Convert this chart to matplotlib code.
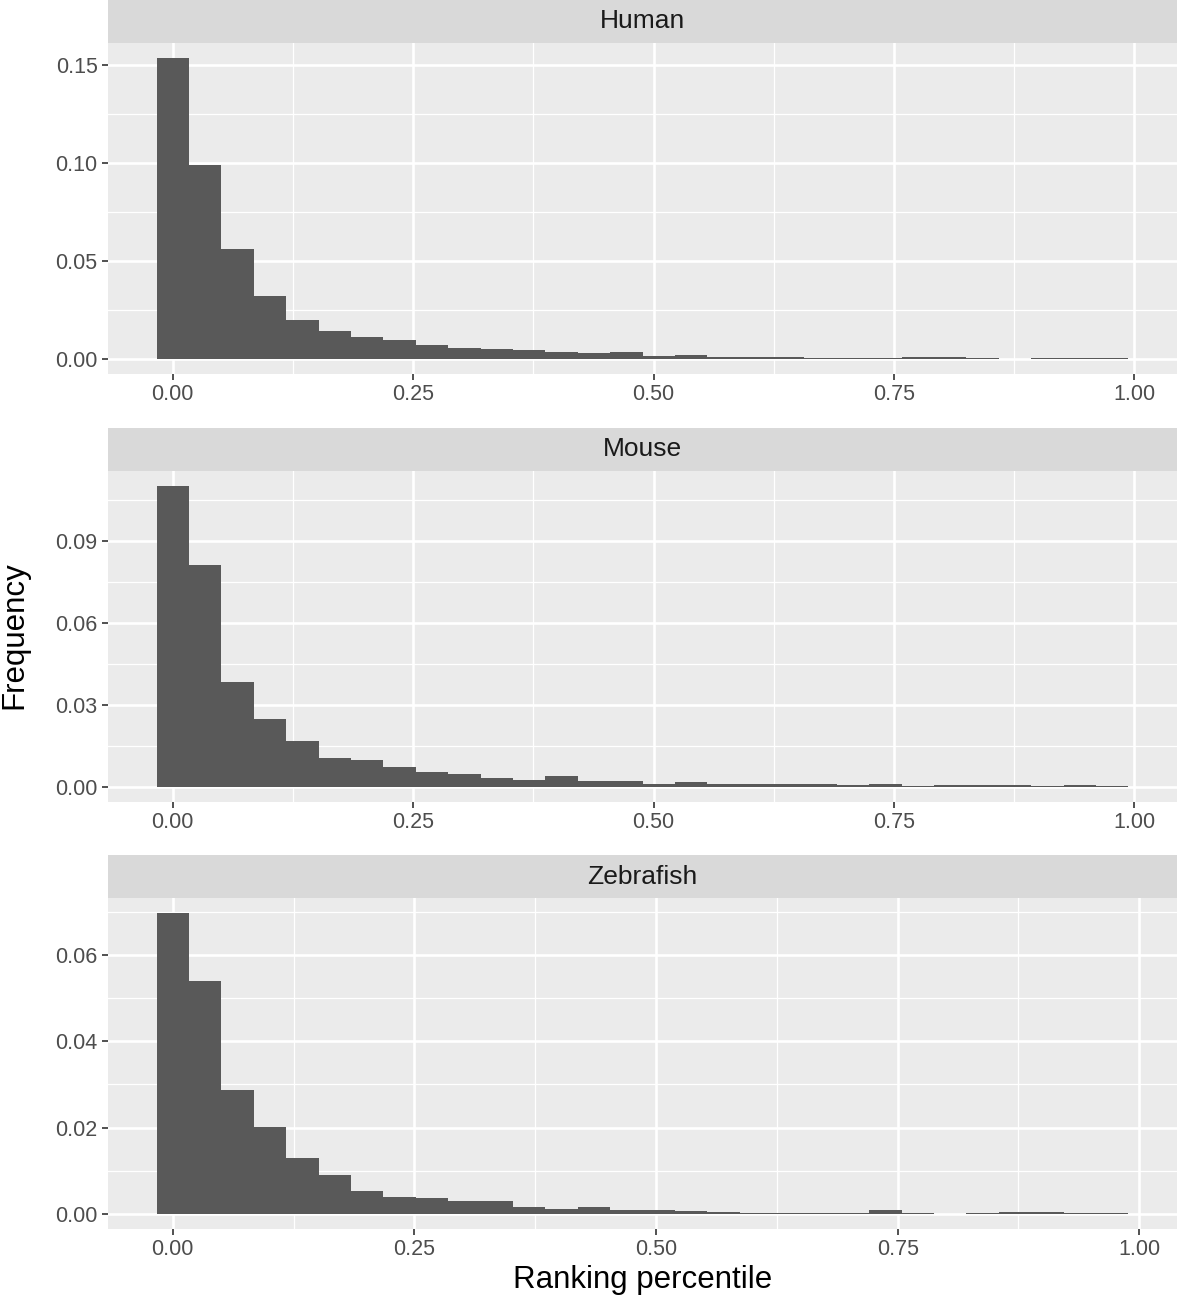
import numpy as np
import matplotlib.pyplot as plt
from matplotlib.ticker import MultipleLocator, FormatStrFormatter

plt.rcParams['font.family'] = ['Liberation Sans', 'DejaVu Sans']

species = ['Human', 'Mouse', 'Zebrafish']

# highest ranking percentile per species (ggplot bins=30 -> width = max/29)
x_max = [0.977, 0.977, 0.972]

# frequency per bin (30 bins)
human = [0.1536, 0.0990, 0.0559, 0.0319, 0.0197, 0.0141, 0.0110, 0.0097,
         0.0069, 0.0056, 0.0053, 0.0047, 0.0036, 0.0031, 0.0037, 0.0016,
         0.0022, 0.0012, 0.0012, 0.0012, 0.0007, 0.0006, 0.0006, 0.0010,
         0.0010, 0.0005, 0.0002, 0.0005, 0.0003, 0.0005]
mouse = [0.1102, 0.0813, 0.0384, 0.0249, 0.0168, 0.0106, 0.0100, 0.0074,
         0.0056, 0.0049, 0.0033, 0.0027, 0.0039, 0.0020, 0.0020, 0.0010,
         0.0018, 0.0012, 0.0009, 0.0009, 0.0009, 0.0007, 0.0010, 0.0004,
         0.0006, 0.0007, 0.0007, 0.0003, 0.0006, 0.0003]
zebrafish = [0.0697, 0.0539, 0.0288, 0.0202, 0.0130, 0.0091, 0.0054, 0.0040,
             0.0036, 0.0031, 0.0031, 0.0016, 0.0012, 0.0017, 0.0010, 0.0009,
             0.0008, 0.0005, 0.0003, 0.0003, 0.0002, 0.0002, 0.0009, 0.0003,
             0.0001, 0.0002, 0.0004, 0.0004, 0.0003, 0.0002]
freqs = [human, mouse, zebrafish]

y_major = [0.05, 0.03, 0.02]

W, H = 1177, 1298
fig = plt.figure(figsize=(W / 100, H / 100), dpi=100)

# pixel layout: (strip top, panel top, panel bottom)
rows = [(0, 43, 374), (428, 471, 802), (855, 898, 1229)]
left, right = 108, 1177

for i, name in enumerate(species):
    st, pt, pb = rows[i]
    ax = fig.add_axes([left / W, 1 - pb / H, (right - left) / W, (pb - pt) / H])
    sax = fig.add_axes([left / W, 1 - pt / H, (right - left) / W, (pt - st) / H])
    sax.set_facecolor('#D9D9D9')
    sax.set_xticks([])
    sax.set_yticks([])
    for s in sax.spines.values():
        s.set_visible(False)
    sax.text(0.5, 0.5, name, ha='center', va='center', fontsize=19,
             color='#1A1A1A', transform=sax.transAxes)

    y = np.array(freqs[i])
    w = x_max[i] / 29
    centers = np.arange(len(y)) * w
    ax.bar(centers, y, width=w, color='#595959', linewidth=0, zorder=3)

    lo, hi = -w / 2, x_max[i] + w / 2
    pad = 0.05 * (hi - lo)
    ax.set_xlim(lo - pad, hi + pad)
    ymax = y.max()
    ax.set_ylim(-0.05 * ymax, 1.05 * ymax)

    ax.set_facecolor('#EBEBEB')
    for s in ax.spines.values():
        s.set_visible(False)
    ax.xaxis.set_major_locator(MultipleLocator(0.25))
    ax.xaxis.set_minor_locator(MultipleLocator(0.125))
    ax.yaxis.set_major_locator(MultipleLocator(y_major[i]))
    ax.yaxis.set_minor_locator(MultipleLocator(y_major[i] / 2))
    ax.xaxis.set_major_formatter(FormatStrFormatter('%.2f'))
    ax.yaxis.set_major_formatter(FormatStrFormatter('%.2f'))
    ax.grid(which='major', color='white', lw=1.9, zorder=0)
    ax.grid(which='minor', color='white', lw=0.9, zorder=0)
    ax.set_axisbelow(True)
    ax.tick_params(which='major', length=4.5, width=1.2, color='#333333',
                   labelsize=15.5, labelcolor='#4D4D4D', pad=3)
    ax.tick_params(which='minor', length=0)

fig.text(0.5 * (left + right) / W, 1 - 1280 / H, 'Ranking percentile',
         ha='center', va='center', fontsize=22.5, color='black')
fig.text(14 / W, 1 - 635 / H, 'Frequency', ha='center', va='center',
         rotation=90, fontsize=22.5, color='black')

fig.savefig('out.png', dpi=100)
